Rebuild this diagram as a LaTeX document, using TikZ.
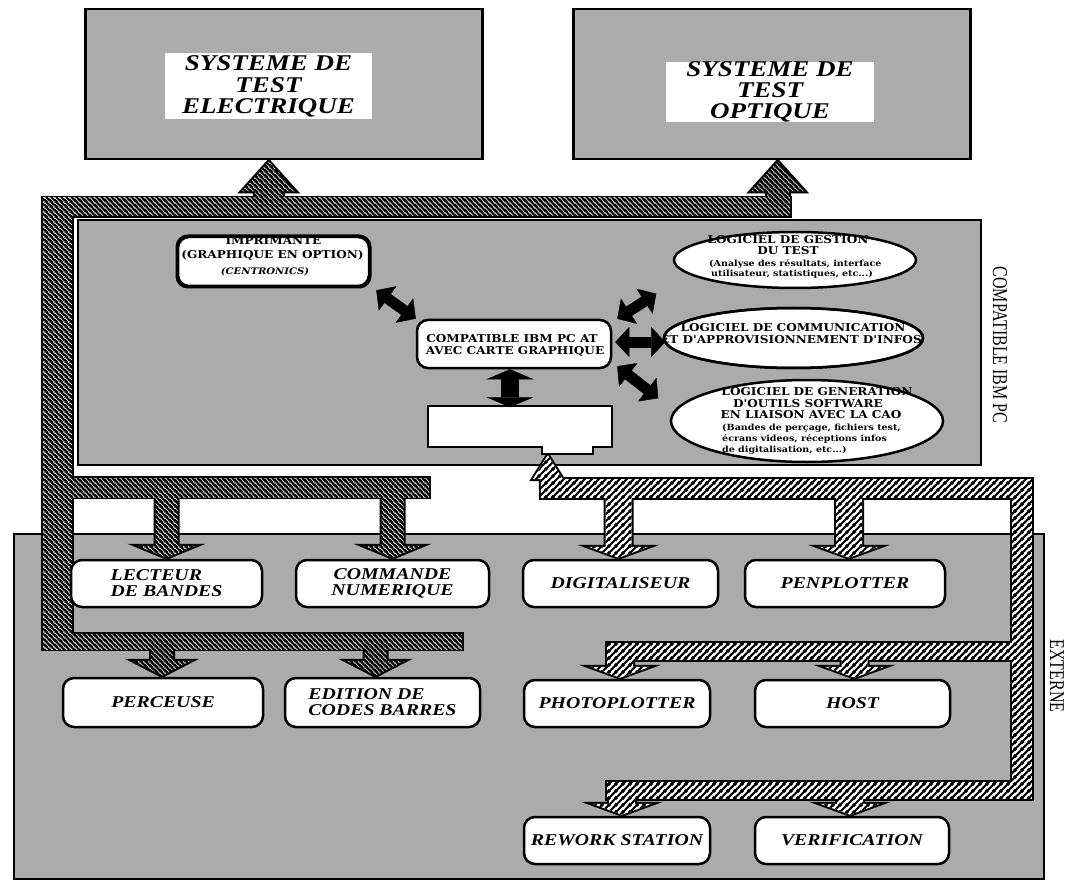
\documentclass[tikz,border=0pt]{standalone}
\usepackage{fontspec}
\setmainfont{Liberation Serif}
\newfontfamily\lblfont[FakeStretch=1.2]{Liberation Serif}
\newfontfamily\condfont[FakeStretch=0.76]{Liberation Serif}
\newfontfamily\capfont[FakeStretch=1.12]{DejaVu Serif}
\usetikzlibrary{patterns.meta,calc,arrows.meta,shapes.geometric}
\pgfdeclarelayer{regions}
\pgfdeclarelayer{buses}
\pgfsetlayers{regions,buses,main}
\definecolor{dotgray}{gray}{0.67}

\tikzdeclarepattern{
  name=darkhatch, type=uncolored,
  bounding box={(0pt,0pt) and (5pt,5pt)},
  tile size={(5pt,5pt)},
  code={
    \draw[line width=0.8pt] (-1pt,6pt) -- (6pt,-1pt);
    \draw[line width=0.8pt] (-1pt,1pt) -- (1pt,-1pt);
    \draw[line width=0.8pt] (4pt,6pt) -- (6pt,4pt);
  }}
\tikzdeclarepattern{
  name=lighthatch, type=uncolored,
  bounding box={(0pt,0pt) and (7pt,7pt)},
  tile size={(7pt,7pt)},
  code={
    \draw[line width=2.3pt] (-1pt,-1pt) -- (8pt,8pt);
    \draw[line width=2.3pt] (-2pt,5pt) -- (2pt,9pt);
    \draw[line width=2.3pt] (5pt,-2pt) -- (9pt,2pt);
  }}

% block arrow pointing down: #1 style, #2 source coord, #3 tip coord, #4 shaft half, #5 head half, #6 head length
\newcommand\arrdown[6]{%
  \path[#1] let \p1=#3, \p2=#2 in
    (\x1-#4pt,\y2) -- (\x1-#4pt,\y1+#6pt) -- (\x1-#5pt,\y1+#6pt) -- (\x1,\y1)
    -- (\x1+#5pt,\y1+#6pt) -- (\x1+#4pt,\y1+#6pt) -- (\x1+#4pt,\y2) -- cycle;}
% block arrow pointing up
\newcommand\arrup[6]{%
  \path[#1] let \p1=#3, \p2=#2 in
    (\x1-#4pt,\y2) -- (\x1-#4pt,\y1-#6pt) -- (\x1-#5pt,\y1-#6pt) -- (\x1,\y1)
    -- (\x1+#5pt,\y1-#6pt) -- (\x1+#4pt,\y1-#6pt) -- (\x1+#4pt,\y2) -- cycle;}

\newcommand\darkbus[1]{%
  \path[#1] (43,198) rectangle (790,216);
  \path[#1] (43,198) rectangle (72,649);
  \path[#1] (72,478) rectangle (429,497);
  \path[#1] (43,634) rectangle (462,649);
  \arrup{#1}{(dtop)}{($(tl.south)+(-15,1)$)}{14}{27}{30}
  \arrup{#1}{(dtop)}{($(tr.south)+(6,1)$)}{11}{27}{30}
  \arrdown{#1}{(dbr)}{($(lect.north)+(0,-1)$)}{11}{29}{12}
  \arrdown{#1}{(dbr)}{($(comm.north)+(0,-1)$)}{11}{29}{12}
  \arrdown{#1}{(dbot)}{($(perc.north)+(-1,-1)$)}{11}{29}{15}
  \arrdown{#1}{(dbot)}{($(edit.north)+(-7,-1)$)}{11}{29}{15}
}
\newcommand\lightbus[1]{%
  \path[#1] (541,479) rectangle (1032,498);
  \path[#1] (1012,479) rectangle (1032,799);
  \path[#1] (607,643) rectangle (1012,660);
  \path[#1] (607,782) rectangle (1032,799);
  \arrup{#1}{(ltop)}{(tabtip)}{7}{15}{24}
  \arrdown{#1}{(ltop)}{($(digit.north)+(-2,-1)$)}{13}{30}{11}
  \arrdown{#1}{(ltop)}{($(penp.north)+(4,-1)$)}{13}{30}{11}
  \arrdown{#1}{(lmid)}{($(photo.north)+(3,-1)$)}{13}{30}{11}
  \arrdown{#1}{(lmid)}{($(host.north)+(2,-1)$)}{13}{30}{11}
  \arrdown{#1}{(lbot)}{($(rework.north)+(5,-1)$)}{13}{30}{11}
  \arrdown{#1}{(lbot)}{($(verif.north)+(-2,-1)$)}{13}{30}{11}
}

\begin{document}
\begin{tikzpicture}[x=1pt,y=-1pt,
  area/.style={draw=black, line width=2pt, fill=dotgray, inner sep=0pt, anchor=north west},
  sysbox/.style={area, line width=2.5pt, minimum width=397pt, minimum height=150pt},
  titlebox/.style={fill=white, inner sep=0pt, align=center, font=\lblfont\bfseries\itshape\fontsize{22.5}{22}\selectfont},
  extbox/.style={draw=black, line width=2.5pt, fill=white, rounded corners=11pt, inner sep=0pt, align=center, font=\lblfont\bfseries\itshape\fontsize{16.5}{16}\selectfont},
  inbox/.style={draw=black, line width=2.5pt, fill=white, rounded corners=11pt, inner sep=0pt},
  oval/.style={ellipse, draw=black, line width=2.5pt, fill=white, inner sep=0pt},
  capt/.style={inner sep=0pt, anchor=base, font=\capfont\bfseries\fontsize{10.8}{11}\selectfont},
  smalltext/.style={inner sep=0pt, anchor=base west, font=\capfont\bfseries\fontsize{8.5}{10}\selectfont},
  sidelabel/.style={inner sep=0pt, rotate=-90, font=\condfont\fontsize{21}{21}\selectfont},
  dbl/.style={draw=black, line width=11pt, {Triangle[length=14pt,width=30pt,line width=0.4pt]}-{Triangle[length=14pt,width=30pt,line width=0.4pt]}},
  dblv/.style={draw=black, line width=18pt, {Triangle[length=10pt,width=47pt,line width=0.4pt]}-{Triangle[length=10pt,width=47pt,line width=0.4pt]}},
  busline/.style={draw=black, line width=4pt},
  darkfill/.style={fill=black, postaction={pattern=darkhatch, pattern color=white}},
  lightfill/.style={fill=white, postaction={pattern=lighthatch, pattern color=black}},
]
\useasboundingbox (0,0) rectangle (1070,882);

% ---------- regions ----------
\begin{pgfonlayer}{regions}
  \fill[white] (0,0) rectangle (1070,882);
  \node[area, minimum width=1030pt, minimum height=345pt] (ext) at (13,533) {};
  \node[area, minimum width=903pt, minimum height=245pt] (ibm) at (77,219) {};
  \node[sysbox] (tl) at (84,8) {};
  \node[sysbox] (tr) at (572,8) {};
\end{pgfonlayer}

\node[titlebox, minimum width=207pt, minimum height=66pt] (tlt) at (268.5,86) {SYSTEME DE\\[0pt]TEST\\[-1pt]ELECTRIQUE};
\node[titlebox, minimum width=208pt, minimum height=60pt] (trt) at (770,92) {SYSTEME DE\\[-1pt]TEST\\[-1pt]OPTIQUE};

% ---------- inner (PC) nodes ----------
\node[inbox, minimum width=191pt, minimum height=49pt] (impr) at (273.5,261.5) {};
\begin{scope}
  \clip[rounded corners=11pt] (impr.south west) rectangle (impr.north east);
  \node[capt] (imprA) at (273.5,245) {IMPRIMANTE};
  \node[capt] (imprB) at (272.5,259) {(GRAPHIQUE EN OPTION)};
  \node[capt, font=\capfont\bfseries\itshape\fontsize{9}{10}\selectfont] (imprC) at (265,275) {(CENTRONICS)};
\end{scope}
\draw[line width=2.5pt, rounded corners=11pt] (impr.south west) rectangle (impr.north east);

\node[inbox, minimum width=194pt, minimum height=48pt] (cpc) at (514,344) {};
\node[capt] (cpcA) at (512,342) {COMPATIBLE IBM PC AT};
\node[capt] (cpcB) at (515,354) {AVEC CARTE GRAPHIQUE};

\node[inner sep=0pt, minimum width=184pt, minimum height=41pt] (card) at (520,426.5) {};
\draw[draw=black, line width=2.5pt, fill=white] (card.north west) -- (card.north east) -- (card.south east)
  -- ++(-19,0) -- ++(0,7) -- ++(-51,0) -- ++(0,-7) -- (card.south west) -- cycle;
\coordinate (tabtip) at ($(card.south west)+(120,8)$);

% ellipses
\node[oval, minimum width=242pt, minimum height=56pt] (gest) at (795,260) {};
\node[capt] (gA) at (788,244) {LOGICIEL DE GESTION};
\node[capt] (gB) at (788,255) {DU TEST};
\node[smalltext] (gC) at (709,267) {(Analyse des résultats, interface};
\node[smalltext] (gD) at (711,277) {utilisateur, statistiques, etc...)};

\node[oval, minimum width=259pt, minimum height=60pt] (commE) at (793.5,338) {};
\begin{scope}
  \clip (commE.center) ellipse [x radius=129.5pt, y radius=30pt];
  \node[capt] (cA) at (793,331) {LOGICIEL DE COMMUNICATION};
  \node[capt] (cB) at (791,343) {ET D'APPROVISIONNEMENT D'INFOS};
\end{scope}
\draw[line width=2.5pt] (commE.center) ellipse [x radius=129.5pt, y radius=30pt];

\node[oval, minimum width=272pt, minimum height=82pt] (gen) at (807,421) {};
\node[capt] (nA) at (817,395) {LOGICIEL DE GENERATION};
\node[capt] (nB) at (808,407) {D'OUTILS SOFTWARE};
\node[capt] (nC) at (811,418) {EN LIAISON AVEC LA CAO};
\node[smalltext] (nD) at (722,430) {(Bandes de perçage, fichiers test,};
\node[smalltext] (nE) at (722,441) {écrans videos, réceptions infos};
\node[smalltext] (nF) at (722,452) {de digitalisation, etc...)};

% black double arrows
\draw[dbl] ($(impr.south east)+(6,3)$) -- ($(cpc.north west)+(0,0)$);
\draw[dbl] ($(cpc.north east)+(5,0)$) -- ($(cpc.north east)+(44,-25)$);
\draw[dbl] ($(cpc.east)+(3,-2)$) -- ($(cpc.east)+(53,-2)$);
\draw[dbl] ($(cpc.south east)+(5,-3)$) -- ($(cpc.south east)+(46,29)$);
\draw[dblv] ($(cpc.south)+(-4,0)$) -- ($(cpc.south)+(-4,38)$);

% ---------- external nodes ----------
\node[extbox, align=left, minimum width=191pt, minimum height=47pt] (lect) at (166.5,583.5) {LECTEUR\\DE BANDES};
\node[extbox, minimum width=193pt, minimum height=47pt] (comm) at (392.5,583.5) {COMMANDE\\NUMERIQUE};
\node[extbox, minimum width=195pt, minimum height=47pt] (digit) at (620.5,583.5) {DIGITALISEUR};
\node[extbox, minimum width=200pt, minimum height=47pt] (penp) at (845,583.5) {PENPLOTTER};
\node[extbox, minimum width=200pt, minimum height=49pt] (perc) at (163,702.5) {PERCEUSE};
\node[extbox, align=left, minimum width=195pt, minimum height=49pt] (edit) at (382.5,702.5) {EDITION DE\\CODES BARRES};
\node[extbox, minimum width=186pt, minimum height=47pt] (photo) at (617,703.5) {PHOTOPLOTTER};
\node[extbox, minimum width=195pt, minimum height=47pt] (host) at (852.5,703.5) {HOST};
\node[extbox, minimum width=186pt, minimum height=47pt] (rework) at (617,840.5) {REWORK STATION};
\node[extbox, minimum width=194pt, minimum height=47pt] (verif) at (852,840.5) {VERIFICATION};

% side labels
\node[sidelabel] (cmpl) at (1000,345) {COMPATIBLE IBM PC};
\node[sidelabel] (extl) at (1057,676) {EXTERNE};

% ---------- buses ----------
\coordinate (dtop) at (0,207);
\coordinate (dbr) at (0,487);
\coordinate (dbot) at (0,641);
\coordinate (ltop) at (0,488);
\coordinate (lmid) at (0,651);
\coordinate (lbot) at (0,790);
\begin{pgfonlayer}{buses}
  \darkbus{busline}
  \lightbus{busline}
  \darkbus{darkfill}
  \lightbus{lightfill}
\end{pgfonlayer}
\end{tikzpicture}
\end{document}
